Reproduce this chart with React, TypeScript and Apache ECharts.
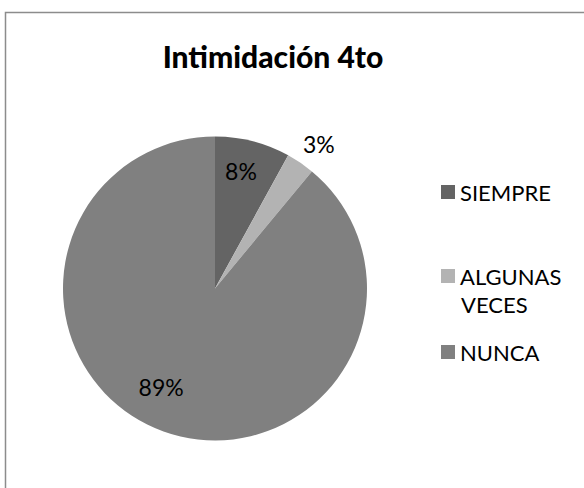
import React, { useEffect, useRef } from "react";
import * as echarts from "echarts";

const titleText = "Intimidación 4to";
const categories = ["SIEMPRE", "ALGUNAS VECES", "NUNCA"];
const values = [8, 3, 89];
const colors = ["#646464", "#b3b3b3", "#808080"];
// label placement: [angle from 12 o'clock in degrees, distance as fraction of radius]
const labelPolar: [number, number][] = [
  [12.5, 0.79],
  [35.7, 1.17],
  [208.6, 0.74],
];

const FONT = "Lato";
const CX = 215;
const CY = 288.5;
const R = 152;

export default function App() {
  const ref = useRef<HTMLDivElement>(null);
  useEffect(() => {
    if (!ref.current) return;
    const chart = echarts.init(ref.current, undefined, { renderer: "svg" });
    const legendTops = [176, 260, 336];
    chart.setOption({
      animation: false,
      backgroundColor: "#ffffff",
      title: {
        text: titleText,
        left: 268,
        top: 36,
        textAlign: "center",
        textStyle: { fontFamily: FONT, fontWeight: 900, fontSize: 30, color: "#000" },
      },
      legend: categories.map((c, i) => ({
        data: [c],
        left: 436,
        top: legendTops[i],
        icon: "rect",
        itemWidth: 14,
        itemHeight: 14,
        itemGap: 0,
        selectedMode: false,
        formatter: (n: string) => (n === "ALGUNAS VECES" ? "ALGUNAS" : n),
        textStyle: { fontFamily: FONT, fontSize: 22, color: "#000", padding: [0, 0, 0, 0] },
      })),
      graphic: [
        {
          type: "rect",
          shape: { x: 5.5, y: 12.5, width: 800, height: 800 },
          style: { fill: "none", stroke: "#8c8c8c", lineWidth: 1.5 },
          silent: true,
        },
        {
          type: "text",
          left: 461,
          top: 293,
          style: { text: "VECES", font: `22px ${FONT}`, fill: "#000" },
        },
      ],
      series: [
        {
          type: "pie",
          center: [CX, CY],
          radius: R,
          startAngle: 90,
          clockwise: true,
          avoidLabelOverlap: false,
          data: categories.map((c, i) => ({
            name: c,
            value: values[i],
            itemStyle: { color: colors[i] },
          })),
          label: {
            show: true,
            position: "inside",
            formatter: (p: any) => `${Math.round(p.percent)}%`,
            fontFamily: FONT,
            fontSize: 23,
            color: "#000",
          },
          labelLine: { show: false },
          labelLayout: (p: any) => {
            const [a, f] = labelPolar[p.dataIndex];
            const rad = (a * Math.PI) / 180;
            return {
              x: CX + Math.sin(rad) * R * f,
              y: CY - Math.cos(rad) * R * f,
              align: "center",
              verticalAlign: "middle",
            };
          },
          emphasis: { disabled: true },
        },
      ],
    });
    return () => chart.dispose();
  }, []);
  return (
    <div
      ref={ref}
      style={{ position: "fixed", left: 0, top: 0, width: 584, height: 488 }}
    />
  );
}
